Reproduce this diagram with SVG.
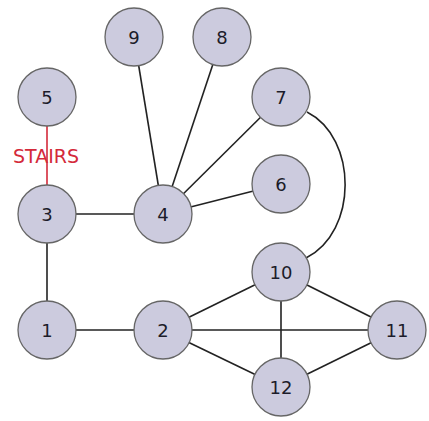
<svg xmlns="http://www.w3.org/2000/svg" width="429" height="421" viewBox="0 0 429 421">
  <style>
    .node circle { fill: #cccbde; stroke: #666666; stroke-width: 1.3; }
    .node text { font-family: "DejaVu Sans", sans-serif; font-size: 18px; fill: #1c1c2a; text-anchor: middle; dominant-baseline: central; }
    .edge { stroke: #222222; stroke-width: 1.6; fill: none; }
    .stairs { stroke: #d42a3a; stroke-width: 1.6; fill: none; }
    .label { font-family: "DejaVu Sans", sans-serif; font-size: 19px; fill: #d42a3a; text-anchor: middle; }
  </style>
  <rect width="429" height="421" fill="#ffffff"/>
  <g id="connectors">
    <line class="edge" x1="134" y1="37" x2="163" y2="214"/>
    <line class="edge" x1="222" y1="37" x2="163" y2="214"/>
    <line class="edge" x1="281" y1="97" x2="163" y2="214"/>
    <line class="edge" x1="281" y1="184" x2="163" y2="214"/>
    <line class="edge" x1="47" y1="214" x2="163" y2="214"/>
    <line class="edge" x1="47" y1="214" x2="47" y2="330"/>
    <line class="edge" x1="47" y1="330" x2="163" y2="330"/>
    <line class="edge" x1="163" y1="330" x2="281" y2="272"/>
    <line class="edge" x1="163" y1="330" x2="397" y2="330"/>
    <line class="edge" x1="163" y1="330" x2="281" y2="387"/>
    <line class="edge" x1="281" y1="272" x2="397" y2="330"/>
    <line class="edge" x1="281" y1="272" x2="281" y2="387"/>
    <line class="edge" x1="281" y1="387" x2="397" y2="330"/>
    <path class="edge" d="M307,112 C358,138 358,232 306,258"/>
    <line class="stairs" x1="47" y1="97" x2="47" y2="214"/>
    <text class="label" x="46" y="163">STAIRS</text>
  </g>
  <g id="n9" class="node"><circle cx="134" cy="37" r="29"/><text x="134" y="37">9</text></g>
  <g id="n8" class="node"><circle cx="222" cy="37" r="29"/><text x="222" y="37">8</text></g>
  <g id="n5" class="node"><circle cx="47" cy="97" r="29"/><text x="47" y="97">5</text></g>
  <g id="n7" class="node"><circle cx="281" cy="97" r="29"/><text x="281" y="97">7</text></g>
  <g id="n6" class="node"><circle cx="281" cy="184" r="29"/><text x="281" y="184">6</text></g>
  <g id="n3" class="node"><circle cx="47" cy="214" r="29"/><text x="47" y="214">3</text></g>
  <g id="n4" class="node"><circle cx="163" cy="214" r="29"/><text x="163" y="214">4</text></g>
  <g id="n10" class="node"><circle cx="281" cy="272" r="29"/><text x="281" y="272">10</text></g>
  <g id="n1" class="node"><circle cx="47" cy="330" r="29"/><text x="47" y="330">1</text></g>
  <g id="n2" class="node"><circle cx="163" cy="330" r="29"/><text x="163" y="330">2</text></g>
  <g id="n11" class="node"><circle cx="397" cy="330" r="29"/><text x="397" y="330">11</text></g>
  <g id="n12" class="node"><circle cx="281" cy="387" r="29"/><text x="281" y="387">12</text></g>
</svg>
